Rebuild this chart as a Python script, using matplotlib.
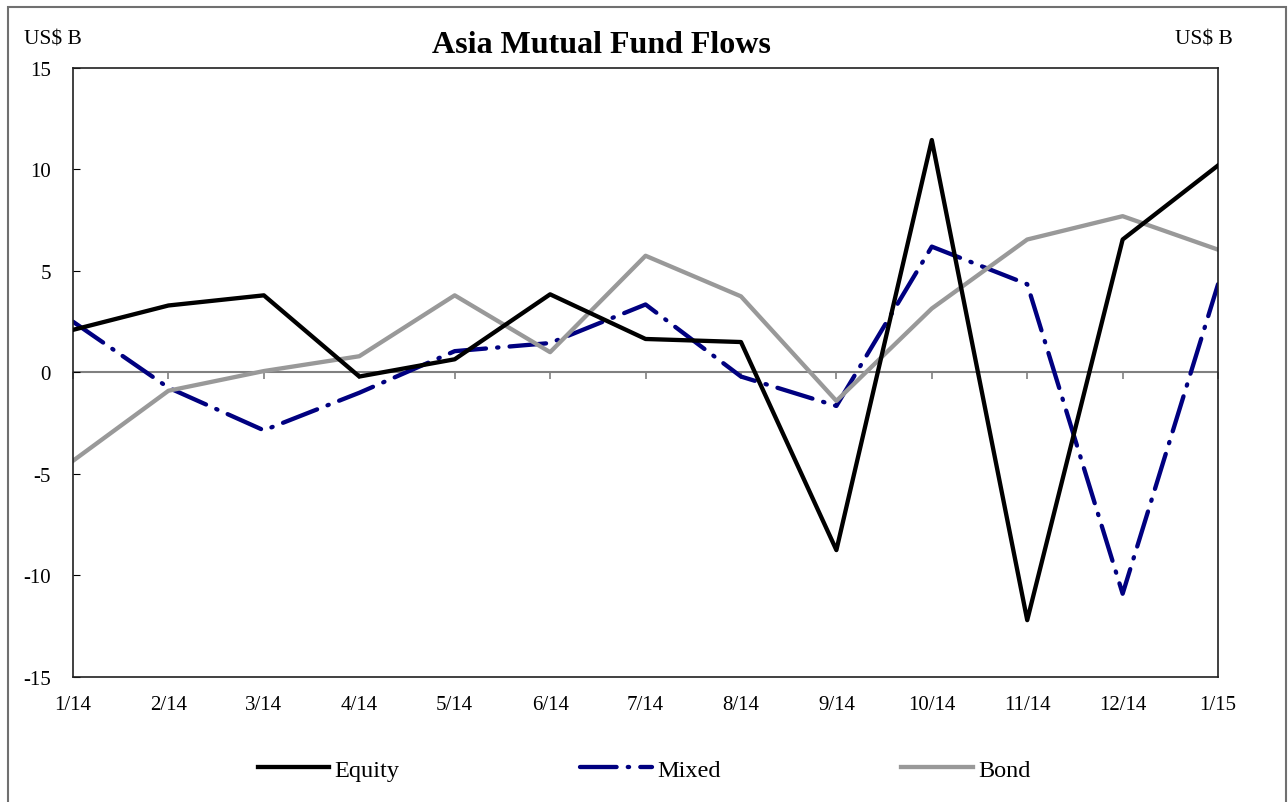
import matplotlib.pyplot as plt
from matplotlib.patches import Rectangle

# monthly flows, US$ B
months = ["1/14", "2/14", "3/14", "4/14", "5/14", "6/14", "7/14",
          "8/14", "9/14", "10/14", "11/14", "12/14", "1/15"]
equity = [2.1, 3.3, 3.8, -0.2, 0.65, 3.85, 1.65, 1.5, -8.75, 11.45, -12.2, 6.55, 10.2]
mixed = [2.5, -0.75, -2.85, -1.0, 1.05, 1.45, 3.35, -0.2, -1.65, 6.2, 4.35, -10.9, 4.35]
bond = [-4.35, -0.9, 0.07, 0.8, 3.8, 1.0, 5.75, 3.75, -1.4, 3.15, 6.55, 7.7, 6.05]

plt.rcParams['font.family'] = ['Liberation Serif', 'DejaVu Serif']

fig = plt.figure(figsize=(12.88, 8.03), dpi=100)
ax = fig.add_axes([0.0567, 0.1557, 0.889, 0.7584])

x = list(range(len(months)))
ax.axhline(0, color='#808080', lw=1.5, zorder=1)
ax.plot(x, equity, color='black', lw=3.1, label='Equity', zorder=3)
ax.plot(x, mixed, color='#000080', lw=3.1, linestyle=(0, (8.5, 2.6, 0.3, 2.6)),
        dash_capstyle='round', label='Mixed', zorder=2)
ax.plot(x, bond, color='#999999', lw=3.1, label='Bond', zorder=2)

ax.set_xlim(0, len(months) - 1)
ax.set_ylim(-15, 15)
ax.set_yticks([-15, -10, -5, 0, 5, 10, 15])
ax.set_yticklabels(['-15', '-10', '-5', '0', '5', '10', '15'])
ax.tick_params(axis='y', direction='in', length=5, pad=16, labelsize=15)
ax.set_xticks(x)
ax.set_xticklabels(months)
ax.tick_params(axis='x', length=0, pad=13, labelsize=15)
for s in ax.spines.values():
    s.set_linewidth(1.2)
    s.set_color('#202020')

# tick marks on the zero line
sec = ax.secondary_xaxis(0.5)
sec.set_xticks(x)
sec.set_xticklabels([])
sec.tick_params(direction='in', length=5, color='#808080', width=1.2)
for s in sec.spines.values():
    s.set_visible(False)

fig.text(0.467, 0.943, 'Asia Mutual Fund Flows', fontsize=23, fontweight='bold',
         ha='center', va='center')
fig.text(0.019, 0.950, 'US$ B', fontsize=15.5, ha='left', va='center')
fig.text(0.957, 0.950, 'US$ B', fontsize=15.5, ha='right', va='center')

fig.legend(loc='center', bbox_to_anchor=(0.500, 0.040), ncol=3, frameon=False,
           fontsize=17.5, handlelength=2.95, handletextpad=0.2, columnspacing=7.45)

top = 1 - 8 / 803
fig.patches.append(Rectangle((8 / 1288, -0.05), 1278 / 1288, top + 0.05,
                             transform=fig.transFigure, fill=False,
                             edgecolor='#707070', lw=1.5))

fig.savefig('out.png', dpi=100)
